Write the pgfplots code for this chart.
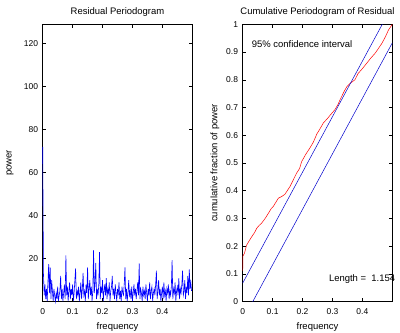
\documentclass[border=0pt]{standalone}
\usepackage{fontspec}
\setmainfont{Liberation Sans}
\usepackage{pgfplots}
\pgfplotsset{compat=1.18}
\pgfplotstableread{
x y
0 72
0.0025 13
0.005 3
0.0075 8
0.01 1.2
0.0125 6
0.015 0.3
0.0175 9
0.02 17.5
0.0225 4
0.025 16
0.0275 1.2
0.03 10
0.0325 5
0.035 0.3
0.0375 6
0.04 3
0.0425 0.2
0.045 4
0.0475 1.2
0.05 7
0.0525 0.3
0.055 3
0.0575 5
0.06 12
0.0625 1.2
0.065 6
0.0675 0.2
0.07 4
0.0725 8
0.075 1.2
0.0775 21.5
0.08 3
0.0825 7
0.085 0.3
0.0875 5
0.09 9
0.0925 1.2
0.095 6
0.0975 3
0.1 8
0.1025 0.3
0.105 4
0.1075 10
0.11 15.5
0.1125 1.2
0.115 5
0.1175 3
0.12 7
0.1225 0.3
0.125 4
0.1275 9
0.13 1.2
0.1325 6
0.135 13.4
0.1375 3
0.14 5
0.1425 0.3
0.145 8
0.1475 4
0.15 16
0.1525 1.2
0.155 6
0.1575 10
0.16 3
0.1625 7
0.165 0.3
0.1675 5
0.17 24
0.1725 4
0.175 9
0.1775 18
0.18 1.2
0.1825 6
0.185 3
0.1875 8
0.19 23
0.1925 1.2
0.195 7
0.1975 4
0.2 10
0.2025 0.3
0.205 5
0.2075 8
0.21 3
0.2125 11
0.215 1.2
0.2175 6
0.22 4
0.2225 9
0.225 0.3
0.2275 5
0.23 7
0.2325 12
0.235 3
0.2375 6
0.24 1.2
0.2425 8
0.245 4
0.2475 0.3
0.25 6
0.2525 3
0.255 9
0.2575 1.2
0.26 5
0.2625 0.3
0.265 7
0.2675 4
0.27 3
0.2725 8
0.275 16
0.2775 1.2
0.28 6
0.2825 0.3
0.285 4
0.2875 10
0.29 3
0.2925 5
0.295 1.2
0.2975 7
0.3 0.3
0.3025 4
0.305 8
0.3075 3
0.31 6
0.3125 1.2
0.315 5
0.3175 9
0.32 3
0.3225 17.8
0.325 1.2
0.3275 6
0.33 4
0.3325 0.3
0.335 7
0.3375 3
0.34 5
0.3425 1.2
0.345 8
0.3475 4
0.35 0.3
0.3525 6
0.355 3
0.3575 9
0.36 1.2
0.3625 5
0.365 7
0.3675 0.3
0.37 4
0.3725 6
0.375 3
0.3775 8
0.38 14.4
0.3825 1.2
0.385 5
0.3875 10
0.39 3
0.3925 6
0.395 0.3
0.3975 4
0.4 7
0.4025 1.2
0.405 9
0.4075 3
0.41 5
0.4125 0.3
0.415 6
0.4175 4
0.42 8
0.4225 1.2
0.425 5
0.4275 3
0.43 7
0.4325 19.3
0.435 1.2
0.4375 6
0.44 4
0.4425 9
0.445 0.3
0.4475 5
0.45 7
0.4525 3
0.455 11
0.4575 1.2
0.46 6
0.4625 4
0.465 8
0.4675 14.5
0.47 3
0.4725 5
0.475 10
0.4775 1.2
0.48 7
0.4825 4
0.485 12
0.4875 3
0.49 15
0.4925 6
0.495 9
0.4975 5
}\pgram
\pgfplotstableread{
x y
0 0.11
0.001 0.165
0.006 0.175
0.013 0.204
0.022 0.22
0.03 0.234
0.04 0.25
0.047 0.265
0.055 0.275
0.063 0.283
0.075 0.3
0.086 0.319
0.095 0.335
0.102 0.343
0.11 0.357
0.119 0.373
0.13 0.379
0.141 0.387
0.15 0.402
0.158 0.415
0.169 0.439
0.18 0.463
0.19 0.48
0.197 0.505
0.21 0.53
0.225 0.555
0.236 0.575
0.248 0.605
0.256 0.619
0.27 0.645
0.283 0.66
0.292 0.672
0.308 0.692
0.318 0.71
0.325 0.727
0.34 0.76
0.348 0.775
0.359 0.787
0.375 0.8
0.386 0.823
0.4 0.84
0.414 0.859
0.428 0.878
0.442 0.895
0.452 0.91
0.465 0.931
0.477 0.955
0.487 0.979
0.5 1.0
}\cumper
\begin{document}
\begin{tikzpicture}[font=\fontsize{9.5}{11}\selectfont]
\pgfplotsset{
  myaxis/.style={
    scale only axis, width=149.6bp, height=277.4bp,
    xmin=0, xmax=0.5, xtick={0,0.1,0.2,0.3,0.4},
    tick align=inside, major tick length=3.5bp,
    ticklabel style={font=\fontsize{8.5}{10}\selectfont},
    /pgf/number format/assume math mode=true,
    xticklabel style={inner sep=0pt, anchor=north, yshift=-7bp},
    yticklabel style={inner sep=0pt, anchor=east, xshift=-4.5bp},
    axis line style={black, line width=0.6bp},
    every tick/.style={black, line width=0.5bp},
    clip mode=individual,
    xlabel={frequency},
    xlabel style={at={(axis description cs:0.5,-0.09)}, anchor=center},
    every axis title shift=0pt,
    title style={at={(axis description cs:0.5,1.0433)}, anchor=center},
  }
}
\begin{axis}[myaxis,
  ymin=0, ymax=129, ytick={20,40,60,80,100,120},
  ylabel={power}, clip=false,
  ylabel style={at={(axis description cs:-0.218,0.5)}, anchor=center},
  title={Residual Periodogram}]
\addplot[color=blue, line width=0.6bp, mark=none] table[x=x,y=y] {\pgram};
\end{axis}
\begin{axis}[myaxis, xshift=200bp,
  ymin=0, ymax=1, ytick={0,0.1,0.2,0.3,0.4,0.5,0.6,0.7,0.8,0.9,1},
  yticklabel style={/pgf/number format/fixed},
  ylabel={cumulative fraction of power},
  ylabel style={at={(axis description cs:-0.185,0.5)}, anchor=center},
  title={Cumulative Periodogram of Residual}]
\addplot[color=red, line width=0.5bp, mark=none] table[x=x,y=y] {\cumper};
\addplot[color=blue!80!black, line width=0.5bp, mark=none] coordinates {(0,0.067) (0.5,1.067)};
\addplot[color=blue!80!black, line width=0.5bp, mark=none] coordinates {(0,-0.067) (0.5,0.933)};
\node[anchor=west, inner sep=0pt] at (axis cs:0.03,0.93) {95\% confidence interval};
\node[anchor=west, inner sep=0pt] at (axis cs:0.288,0.081) {Length =\ \ 1.154};
\end{axis}
\pgfresetboundingbox
\path[use as bounding box] (-42.7bp,-31.3bp) rectangle (357.3bp,301.7bp);
\end{tikzpicture}
\end{document}
